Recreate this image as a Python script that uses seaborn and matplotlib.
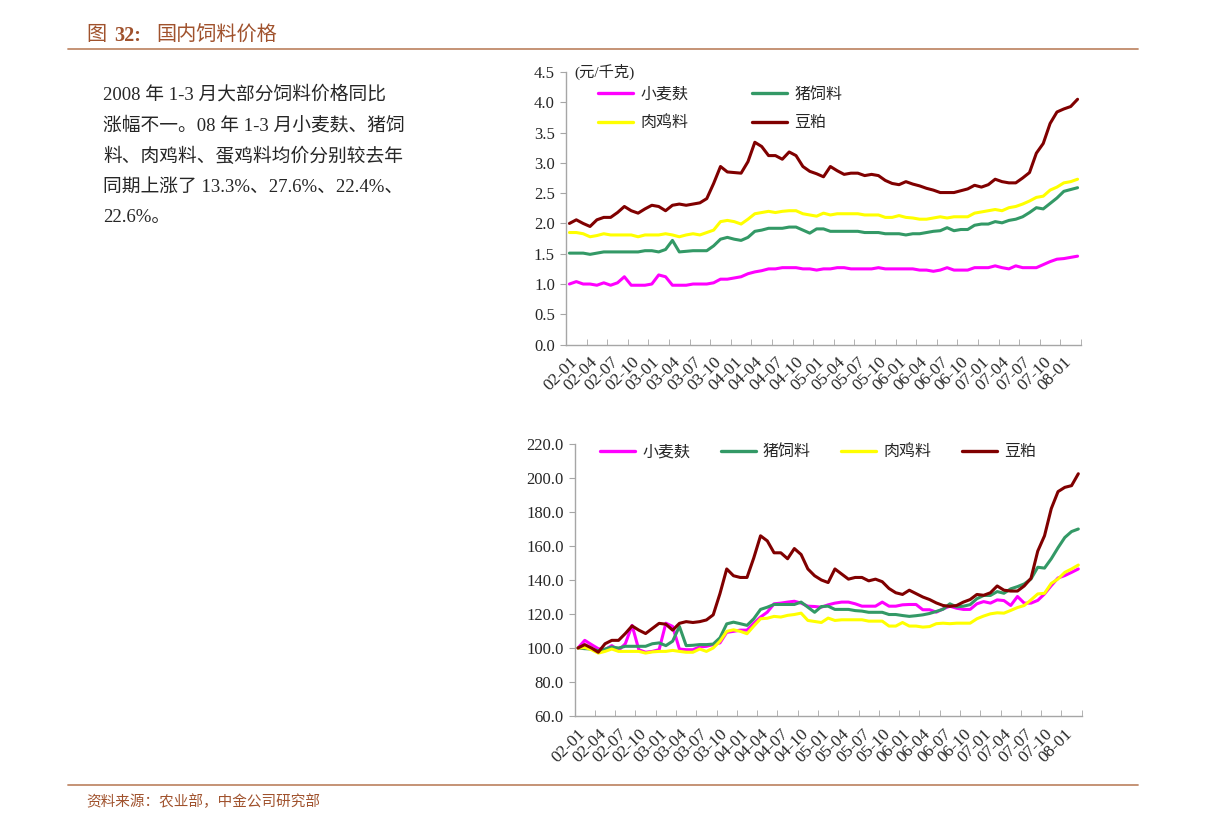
import numpy as np
import pandas as pd
import matplotlib
matplotlib.use("Agg")
import matplotlib.pyplot as plt
import matplotlib.transforms as mtransforms
from matplotlib.lines import Line2D
from matplotlib.ticker import FixedLocator, MultipleLocator, FormatStrFormatter
import seaborn as sns

# monthly, 2002-01 .. 2008-03
months = pd.period_range("2002-01", periods=75, freq="M").strftime("%y-%m")
tick_labels = ["02-01", "02-04", "02-07", "02-10", "03-01", "03-04", "03-07",
               "03-10", "04-01", "04-04", "04-07", "04-10", "05-01", "05-04",
               "05-07", "05-10", "06-01", "06-04", "06-07", "06-10", "07-01",
               "07-04", "07-07", "07-10", "08-01"]

names = ["小麦麸", "猪饲料", "肉鸡料", "豆粕"]
colors = {"小麦麸": "#FF00FF", "猪饲料": "#339966", "肉鸡料": "#FFFF00", "豆粕": "#800000"}

# price, yuan/kg
wheat_bran_price = [1.00, 1.04, 1.00, 1.00, 0.98, 1.02, 0.98, 1.02, 1.12, 0.98,
                    0.98, 0.98, 1.00, 1.15, 1.12, 0.98, 0.98, 0.98, 1.00, 1.00,
                    1.00, 1.02, 1.08, 1.08, 1.10, 1.12, 1.17, 1.20, 1.22, 1.25,
                    1.25, 1.27, 1.27, 1.27, 1.25, 1.25, 1.23, 1.25, 1.25, 1.27,
                    1.27, 1.25, 1.25, 1.25, 1.25, 1.27, 1.25, 1.25, 1.25, 1.25,
                    1.25, 1.23, 1.23, 1.21, 1.23, 1.27, 1.23, 1.23, 1.23, 1.27,
                    1.27, 1.27, 1.30, 1.27, 1.25, 1.30, 1.27, 1.27, 1.27, 1.32,
                    1.37, 1.41, 1.42, 1.44, 1.46]
pig_feed_price = [1.51, 1.51, 1.51, 1.49, 1.51, 1.53, 1.53, 1.53, 1.53, 1.53,
                  1.53, 1.55, 1.55, 1.53, 1.57, 1.72, 1.53, 1.54, 1.55, 1.55,
                  1.55, 1.63, 1.74, 1.77, 1.74, 1.72, 1.77, 1.87, 1.89, 1.92,
                  1.92, 1.92, 1.94, 1.94, 1.89, 1.84, 1.91, 1.91, 1.87, 1.87,
                  1.87, 1.87, 1.87, 1.85, 1.85, 1.85, 1.83, 1.83, 1.83, 1.81,
                  1.83, 1.83, 1.85, 1.87, 1.88, 1.93, 1.88, 1.90, 1.90, 1.97,
                  1.99, 1.99, 2.03, 2.01, 2.05, 2.07, 2.11, 2.18, 2.26, 2.24,
                  2.33, 2.42, 2.53, 2.56, 2.59]
broiler_feed_price = [1.85, 1.85, 1.83, 1.78, 1.80, 1.83, 1.81, 1.81, 1.81, 1.81,
                      1.78, 1.81, 1.81, 1.81, 1.83, 1.81, 1.78, 1.81, 1.83, 1.81,
                      1.85, 1.89, 2.03, 2.05, 2.03, 1.99, 2.07, 2.16, 2.18, 2.20,
                      2.18, 2.20, 2.21, 2.21, 2.16, 2.14, 2.12, 2.17, 2.14, 2.16,
                      2.16, 2.16, 2.16, 2.14, 2.14, 2.14, 2.10, 2.10, 2.13, 2.10,
                      2.09, 2.07, 2.07, 2.09, 2.11, 2.09, 2.11, 2.11, 2.11, 2.17,
                      2.19, 2.21, 2.23, 2.21, 2.26, 2.28, 2.32, 2.37, 2.43, 2.45,
                      2.55, 2.60, 2.67, 2.69, 2.73]
soymeal_price = [2.00, 2.06, 2.00, 1.95, 2.06, 2.10, 2.10, 2.18, 2.28, 2.21,
                 2.17, 2.24, 2.30, 2.28, 2.21, 2.30, 2.32, 2.30, 2.32, 2.34,
                 2.41, 2.66, 2.94, 2.85, 2.84, 2.83, 3.02, 3.34, 3.27, 3.12,
                 3.12, 3.06, 3.18, 3.12, 2.94, 2.86, 2.82, 2.77, 2.94, 2.87,
                 2.81, 2.83, 2.83, 2.79, 2.81, 2.79, 2.71, 2.66, 2.64, 2.69,
                 2.65, 2.62, 2.58, 2.55, 2.51, 2.51, 2.51, 2.54, 2.57, 2.63,
                 2.60, 2.64, 2.73, 2.69, 2.67, 2.67, 2.75, 2.84, 3.16, 3.32,
                 3.65, 3.84, 3.89, 3.93, 4.05]

# index, 2002-01 = 100
wheat_bran_idx = [100, 104.5, 102, 99.6, 99, 101.4, 98.6, 102.5, 113.3, 99,
                  97.5, 98, 99, 114.6, 112.7, 99.4, 99, 99, 100.6, 101,
                  102, 103, 109.2, 109.8, 110.5, 110.5, 114.6, 118.2, 121.1, 126,
                  126.4, 127, 127.5, 126.4, 124.6, 124.4, 124, 125.4, 126.4, 127,
                  127, 126, 124.6, 124.6, 124.6, 127, 124.6, 124.6, 125.4, 125.6,
                  125.6, 122.5, 122.5, 121.1, 123, 124.6, 123.4, 122.7, 122.7, 126,
                  127.3, 126.4, 128.3, 127.9, 125, 130.3, 126.4, 126.4, 128, 131.8,
                  136.7, 141.2, 142.6, 144.5, 146.5]
pig_feed_idx = [100, 99.6, 99.4, 98.4, 99.4, 100.6, 100, 101, 101, 101,
                101, 102.5, 103, 101.4, 104, 112.7, 101.4, 101.6, 102, 102,
                102.3, 106, 114.2, 115.2, 114.3, 113.3, 117.2, 122.7, 124, 125.6,
                125.6, 125.6, 125.6, 127, 124, 121, 124.4, 124.6, 122.7, 122.7,
                122.7, 122, 121.7, 121, 121, 121, 119.7, 119.7, 119.1, 118.6,
                119, 119.5, 120.3, 121.5, 122.8, 126, 124.2, 124.6, 125.5, 129,
                130.9, 130.9, 133.2, 132.2, 134.8, 136.1, 137.7, 140.6, 147.5, 147,
                152.5, 159, 165, 168.5, 170]
broiler_feed_idx = [100, 100.3, 99, 97, 98, 99.4, 98, 98, 98, 98,
                    97, 97.7, 98, 98, 98.6, 98, 97.5, 97.5, 99.4, 98,
                    100, 104, 109.8, 110.7, 109.8, 108.4, 112.9, 117.2, 117.5, 118.6,
                    118.2, 119.2, 119.7, 120.5, 116.2, 115.6, 115, 117.6, 116.2, 116.6,
                    116.6, 116.6, 116.6, 115.8, 115.8, 115.8, 112.9, 112.9, 115, 112.9,
                    112.9, 112.3, 112.6, 114.3, 114.6, 114.3, 114.6, 114.6, 114.6, 117.2,
                    118.8, 120.1, 120.7, 120.5, 122.1, 123.8, 125, 128.3, 131.8, 132.2,
                    138, 140.6, 144.5, 146.5, 148.8]
soymeal_idx = [100, 102, 100, 97.5, 102.5, 104.5, 104.5, 108.5, 113, 110.5,
               108.5, 111.5, 114.5, 114, 110.5, 114.5, 115.5, 115, 115.5, 116.5,
               119.5, 132, 146.5, 142.5, 141.5, 141.5, 153, 166, 163, 156,
               156, 152.5, 158.5, 155, 146.5, 142.5, 140, 138.5, 146.5, 143.5,
               140.5, 141.5, 141.5, 139.5, 140.5, 139, 135, 132.5, 131.5, 134,
               132, 130, 128.5, 126.5, 125, 124.5, 125, 127, 128.5, 131.5,
               131, 132.5, 136.5, 134, 133.5, 133.5, 136.5, 141, 157, 166,
               182, 192, 194.5, 195.5, 202.5]

W, H = 1224, 830
SPINE = "#A6A6A6"
BROWN = "#A0522D"

sns.set_style("white")
plt.rcParams["font.family"] = ["Liberation Serif", "Noto Sans CJK SC"]


def long_frame(series):
    frames = []
    for name, vals in zip(names, series):
        frames.append(pd.DataFrame({"month": months, "pos": np.arange(len(months)),
                                    "item": name, "value": vals}))
    return pd.concat(frames, ignore_index=True)


def px_axes(fig, x0, x1, ytop, ybot):
    return fig.add_axes([x0 / W, 1 - ybot / H, (x1 - x0) / W, (ybot - ytop) / H])


def style_panel(fig, ax, df, ylim, ystep):
    sns.lineplot(data=df, x="pos", y="value", hue="item", hue_order=names,
                 palette=colors, linewidth=2.2, legend=False, sort=False, ax=ax)
    n = len(months)
    ax.set_xlim(-0.5, n - 0.5)
    ax.set_ylim(*ylim)
    ax.set_xlabel("")
    ax.set_ylabel("")
    ax.yaxis.set_major_locator(MultipleLocator(ystep))
    ax.yaxis.set_major_formatter(FormatStrFormatter("%.1f"))
    ax.set_xticks(np.arange(0, n, 3))
    ax.set_xticklabels(tick_labels, rotation=45, ha="right", va="center",
                       rotation_mode="anchor", fontsize=12.5)
    ax.xaxis.set_minor_locator(FixedLocator(np.arange(-0.5, n, 3)))
    ax.tick_params(axis="x", which="major", length=0, pad=11)
    ax.tick_params(axis="x", which="minor", length=4, direction="in",
                   color=SPINE, bottom=True)
    ax.tick_params(axis="y", length=4, direction="out", color=SPINE,
                   labelsize=12, pad=4, left=True)
    shift = mtransforms.ScaledTranslation(4 / 72, 0, fig.dpi_scale_trans)
    for lab in ax.get_xticklabels():
        lab.set_transform(lab.get_transform() + shift)
    for side in ["top", "right"]:
        ax.spines[side].set_visible(False)
    for side in ["left", "bottom"]:
        ax.spines[side].set_color(SPINE)
        ax.spines[side].set_linewidth(1.0)


def handles(order):
    return [Line2D([], [], color=colors[n], linewidth=2.4) for n in order]


fig = plt.figure(figsize=(W / 100, H / 100), dpi=100)

# header / footer
fig.text(86 / W, 1 - 36 / H, "图", fontsize=14.5, color=BROWN, va="center")
fig.text(114 / W, 1 - 36 / H, "32:", fontsize=14.5, color=BROWN, va="center",
         fontweight="bold")
fig.text(156 / W, 1 - 36 / H, "国内饲料价格", fontsize=14.5, color=BROWN, va="center")
fig.add_artist(Line2D([68 / W, 1138 / W], [1 - 49 / H] * 2, color="#C08A6A", lw=1.3))
fig.add_artist(Line2D([68 / W, 1138 / W], [1 - 785 / H] * 2, color="#C08A6A", lw=1.3))
fig.text(86 / W, 1 - 802 / H, "资料来源：农业部，中金公司研究部", fontsize=10.5,
         color=BROWN, va="center")

body = ["2008 年 1-3 月大部分饲料价格同比",
        "涨幅不一。08 年 1-3 月小麦麸、猪饲",
        "料、肉鸡料、蛋鸡料均价分别较去年",
        "同期上涨了 13.3%、27.6%、22.4%、",
        "22.6%。"]
for i, line in enumerate(body):
    fig.text(103 / W, 1 - (95 + i * 30.7) / H, line, fontsize=13.5, va="center")

# upper panel: prices
ax1 = px_axes(fig, 566, 1081, 72, 344.6)
price_df = long_frame([wheat_bran_price, pig_feed_price, broiler_feed_price, soymeal_price])
style_panel(fig, ax1, price_df, (0, 4.5), 0.5)
ax1.text(0.017, 1.0, "(元/千克)", transform=ax1.transAxes, fontsize=11, va="center")
leg_order = ["小麦麸", "肉鸡料", "猪饲料", "豆粕"]
ax1.legend(handles(leg_order), leg_order, ncol=2, loc="center left",
           bbox_to_anchor=(0.062, 0.864), frameon=False, fontsize=11.5,
           handlelength=2.2, handletextpad=0.45, columnspacing=4.0,
           labelspacing=0.8, borderpad=0, borderaxespad=0)

# lower panel: index
ax2 = px_axes(fig, 574.6, 1081.7, 444, 716)
idx_df = long_frame([wheat_bran_idx, pig_feed_idx, broiler_feed_idx, soymeal_idx])
style_panel(fig, ax2, idx_df, (60, 220), 20)
ax2.legend(handles(names), names, ncol=4, loc="center left",
           bbox_to_anchor=(0.05, 0.97), frameon=False, fontsize=11.5,
           handlelength=2.2, handletextpad=0.45, columnspacing=1.9,
           borderpad=0, borderaxespad=0)

fig.savefig("out.png", dpi=100)
